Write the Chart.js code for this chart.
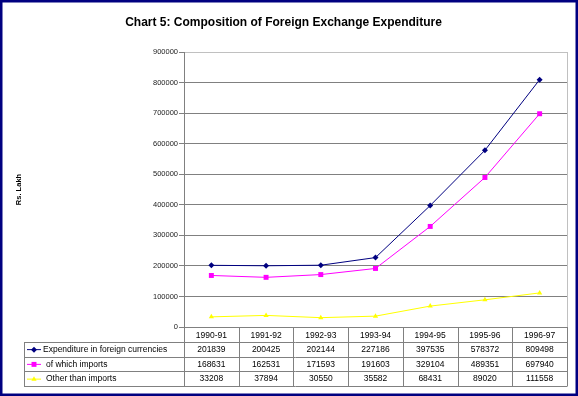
<!DOCTYPE html>
<html>
<head>
<meta charset="utf-8">
<script src="https://cdn.jsdelivr.net/npm/chart.js@4"></script>
<style>
    html, body { margin: 0; padding: 0; background: #fff; }
    #wrap { width: 578px; height: 396px; }
</style>
</head>
<body>
<div id="wrap"><canvas id="chart" width="578" height="396"></canvas></div>
<script>
// ------------------------------------------
// Dados do gráfico
// ------------------------------------------
const categories = ['1990-91', '1991-92', '1992-93', '1993-94', '1994-95', '1995-96', '1996-97'];
const expenditure = [201839, 200425, 202144, 227186, 397535, 578372, 809498];
const imports = [168631, 162531, 171593, 191603, 329104, 489351, 697940];
const otherThanImports = [33208, 37894, 30550, 35582, 68431, 89020, 111558];
const seriesNames = ['Expenditure in foreign currencies', 'of which imports', 'Other than imports'];
const yTicks = [0, 100000, 200000, 300000, 400000, 500000, 600000, 700000, 800000, 900000];

const FONT = '"Liberation Sans", Arial, sans-serif';

// ------------------------------------------
// Moldura azul e fundo branco
// ------------------------------------------
const framePlugin = {
    id: 'frame',
    beforeDraw(chart) {
        const ctx = chart.ctx;
        ctx.save();
        ctx.fillStyle = '#fff';
        ctx.fillRect(0, 0, chart.width, chart.height);
        ctx.restore();
    },
    afterDraw(chart) {
        const ctx = chart.ctx;
        const a = chart.chartArea;
        ctx.save();
        // borda direita da área de plotagem
        ctx.strokeStyle = '#c0c0c0';
        ctx.lineWidth = 1;
        ctx.beginPath();
        ctx.moveTo(a.right + 0.5, a.top);
        ctx.lineTo(a.right + 0.5, a.bottom);
        ctx.stroke();
        ctx.strokeStyle = '#000080';
        ctx.lineWidth = 2.5;
        ctx.strokeRect(1.25, 1.25, chart.width - 2.5, chart.height - 2.5);
        ctx.restore();
    }
};

// ------------------------------------------
// Tabela de dados abaixo do eixo X (estilo Excel)
// ------------------------------------------
const tablePlugin = {
    id: 'dataTable',
    afterDraw(chart) {
        const ctx = chart.ctx;
        const a = chart.chartArea;
        const xs = chart.scales.x;
        const colW = (a.right - a.left) / categories.length;
        const tableLeft = 24;
        const rowH = 14.75;
        const top = a.bottom;
        const bottom = top + rowH * 4;

        ctx.save();
        ctx.strokeStyle = '#808080';
        ctx.lineWidth = 1;
        ctx.beginPath();
        // linhas horizontais
        for (let r = 1; r <= 4; r++) {
            const y = Math.round(top + rowH * r) + 0.5;
            ctx.moveTo(tableLeft, y);
            ctx.lineTo(a.right, y);
        }
        // linhas verticais
        ctx.moveTo(tableLeft + 0.5, Math.round(top + rowH));
        ctx.lineTo(tableLeft + 0.5, Math.round(bottom) + 0.5);
        for (let c = 0; c <= categories.length; c++) {
            const x = Math.round(a.left + colW * c) + 0.5;
            ctx.moveTo(x, top);
            ctx.lineTo(x, Math.round(bottom) + 0.5);
        }
        ctx.stroke();

        ctx.fillStyle = '#000';
        ctx.font = '8.5px ' + FONT;
        ctx.textAlign = 'center';
        ctx.textBaseline = 'middle';

        // cabeçalho
        categories.forEach((cat, i) => {
            ctx.fillText(cat, xs.getPixelForValue(i), top + rowH / 2 + 1);
        });

        // linhas de dados + legenda
        chart.data.datasets.forEach((ds, r) => {
            const yMid = top + rowH * (r + 1) + rowH / 2 + 0.5;
            ctx.fillStyle = '#000';
            ctx.textAlign = 'center';
            ds.data.forEach((v, i) => {
                ctx.fillText(String(v), xs.getPixelForValue(i), yMid);
            });

            // amostra da série
            ctx.strokeStyle = ds.borderColor;
            ctx.lineWidth = 1;
            ctx.beginPath();
            ctx.moveTo(27, yMid);
            ctx.lineTo(41, yMid);
            ctx.stroke();
            ctx.fillStyle = ds.pointBackgroundColor;
            ctx.strokeStyle = ds.pointBorderColor;
            Chart.helpers.drawPoint(ctx, {
                pointStyle: ds.pointStyle,
                radius: ds.pointRadius,
                borderWidth: 0
            }, 34, yMid);

            ctx.fillStyle = '#000';
            ctx.textAlign = 'left';
            ctx.fillText(ds.label, r === 0 ? 43 : 46, yMid);
        });
        ctx.restore();
    }
};

const makeSet = (label, data, color, style, radius) => ({
    label,
    data,
    borderColor: color,
    backgroundColor: color,
    pointBackgroundColor: color,
    pointBorderColor: color,
    pointStyle: style,
    pointRadius: radius,
    pointBorderWidth: 0,
    borderWidth: 1,
    tension: 0,
    fill: false
});

new Chart(document.getElementById('chart'), {
    type: 'line',
    data: {
        labels: categories,
        datasets: [
            makeSet(seriesNames[0], expenditure, '#000080', 'rectRot', 3),
            makeSet(seriesNames[1], imports, '#ff00ff', 'rect', 3.5),
            makeSet(seriesNames[2], otherThanImports, '#ffff00', 'triangle', 3)
        ]
    },
    options: {
        responsive: false,
        animation: false,
        layout: { padding: { left: 0, right: 11, top: 0, bottom: 10 } },
        plugins: {
            legend: { display: false },
            tooltip: { enabled: false },
            title: {
                display: true,
                text: 'Chart 5: Composition of Foreign Exchange Expenditure',
                color: '#000',
                font: { family: FONT, size: 12, weight: 'bold' },
                padding: { top: 15, bottom: 22.6 }
            }
        },
        scales: {
            x: {
                type: 'category',
                offset: true,
                grid: { display: false, drawTicks: false },
                border: { display: false },
                ticks: { display: false },
                afterFit: scale => { scale.height = 59; }
            },
            y: {
                min: 0,
                max: 900000,
                afterBuildTicks: scale => {
                    scale.ticks = yTicks.map(v => ({ value: v }));
                },
                ticks: {
                    color: '#222',
                    padding: 1,
                    font: { family: FONT, size: 7.5 },
                    callback: v => String(v)
                },
                grid: {
                    color: ctx => (ctx.tick && ctx.tick.value === 900000) ? '#c0c0c0' : '#808080',
                    tickColor: '#808080',
                    tickLength: 5,
                    lineWidth: 1
                },
                border: { color: '#808080', width: 1 },
                title: {
                    display: true,
                    text: 'Rs. Lakh',
                    color: '#000',
                    font: { family: FONT, size: 7.5, weight: 'bold' },
                    padding: { top: 14, bottom: 0 }
                },
                afterFit: scale => { scale.width = 184; }
            }
        }
    },
    plugins: [framePlugin, tablePlugin]
});
</script>
</body>
</html>
